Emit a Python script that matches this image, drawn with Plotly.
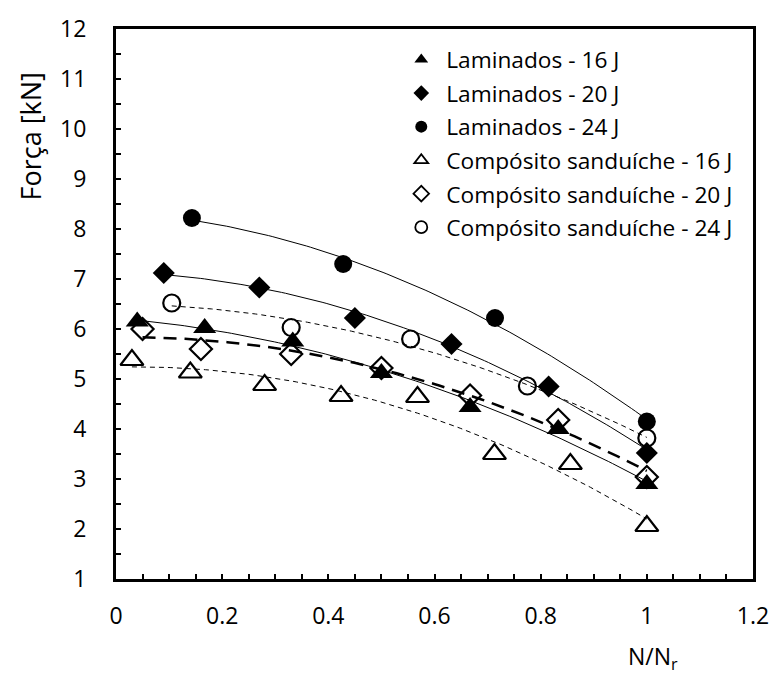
import numpy as np
import plotly.graph_objects as go

# ---- data ----
lam16_x = [0.04, 0.167, 0.333, 0.5, 0.667, 0.833, 1.0]
lam16_y = [6.15, 6.02, 5.75, 5.12, 4.44, 4.0, 2.9]

lam20_x = [0.09, 0.27, 0.45, 0.632, 0.815, 1.0]
lam20_y = [7.12, 6.83, 6.22, 5.7, 4.85, 3.52]

lam24_x = [0.143, 0.428, 0.714, 1.0]
lam24_y = [8.22, 7.3, 6.22, 4.15]

comp16_x = [0.03, 0.14, 0.28, 0.424, 0.568, 0.713, 0.856, 1.0]
comp16_y = [5.38, 5.13, 4.88, 4.66, 4.64, 3.5, 3.3, 2.06]

comp20_x = [0.05, 0.16, 0.33, 0.5, 0.667, 0.833, 1.0]
comp20_y = [6.0, 5.6, 5.5, 5.22, 4.67, 4.18, 3.04]

comp24_x = [0.105, 0.33, 0.555, 0.775, 1.0]
comp24_y = [6.52, 6.03, 5.8, 4.86, 3.82]

names = ["Laminados - 16 J", "Laminados - 20 J", "Laminados - 24 J",
         "Compósito sanduíche - 16 J", "Compósito sanduíche - 20 J",
         "Compósito sanduíche - 24 J"]

x_ticks = [0, 0.2, 0.4, 0.6, 0.8, 1, 1.2]
x_ticklabels = ["0", "0.2", "0.4", "0.6", "0.8", "1", "1.2"]
y_ticks = list(range(1, 13))

series = [
    (lam16_x, lam16_y, "triangle-up", True, 20, dict(width=1, dash="solid")),
    (lam20_x, lam20_y, "diamond", True, 17, dict(width=1, dash="solid")),
    (lam24_x, lam24_y, "circle", True, 18, dict(width=1, dash="solid")),
    (comp16_x, comp16_y, "triangle-up-open", False, 20, dict(width=1, dash="5px,4px")),
    (comp20_x, comp20_y, "diamond-open", False, 17, dict(width=2.5, dash="13px,8px")),
    (comp24_x, comp24_y, "circle-open", False, 17, dict(width=1, dash="5px,4px")),
]

FONT = "Open Sans"
fig = go.Figure()

# trend lines (2nd-order polynomial fits of each series)
for (xs, ys, sym, filled, sz, ln) in series:
    c = np.polyfit(xs, ys, 2)
    xx = np.linspace(min(xs), max(xs), 120)
    fig.add_trace(go.Scatter(x=xx, y=np.polyval(c, xx), mode="lines",
                             line=dict(color="black", **ln),
                             showlegend=False, hoverinfo="skip"))

# markers
for i, (xs, ys, sym, filled, sz, ln) in enumerate(series):
    fig.add_trace(go.Scatter(
        x=xs, y=ys, mode="markers", name=names[i], showlegend=False,
        marker=dict(symbol=sym, size=sz, color="black",
                    line=dict(color="black", width=2.2 if not filled else 0))))

# legend entries with smaller markers
for i, (xs, ys, sym, filled, sz, ln) in enumerate(series):
    fig.add_trace(go.Scatter(
        x=[None], y=[None], mode="markers", name=names[i], legendgroup=str(i),
        marker=dict(symbol=sym, size=12, color="black",
                    line=dict(color="black", width=1.8 if not filled else 0))))

fig.update_layout(
    width=781, height=675,
    margin=dict(l=116, r=23, t=23, b=96),
    paper_bgcolor="white", plot_bgcolor="white",
    font=dict(family=FONT, size=22, color="black"),
    showlegend=True,
    legend=dict(x=0.44, y=0.983, xanchor="left", yanchor="top",
                bgcolor="rgba(0,0,0,0)", tracegroupgap=1, itemwidth=40,
                font=dict(family=FONT, size=22.7), itemsizing="trace"),
    xaxis=dict(range=[0, 1.2], tickvals=x_ticks, ticktext=x_ticklabels,
               ticks="inside", ticklen=5, tickwidth=2, tickcolor="black",
               minor=dict(dtick=0.05, ticks="inside", ticklen=5, tickwidth=2, tickcolor="black"),
               showline=True, linecolor="black", linewidth=3, mirror=True,
               showgrid=False, zeroline=False, ticklabelstandoff=14,
               tickfont=dict(family=FONT, size=23)),
    yaxis=dict(range=[1, 12], tickvals=y_ticks,
               ticks="inside", ticklen=5, tickwidth=2, tickcolor="black",
               minor=dict(dtick=0.5, ticks="inside", ticklen=5, tickwidth=2, tickcolor="black"),
               showline=True, linecolor="black", linewidth=3, mirror=True,
               showgrid=False, zeroline=False, ticklabelstandoff=22,
               tickfont=dict(family=FONT, size=23)),
    annotations=[
        dict(text="Força [kN]", xref="paper", yref="paper",
             x=-(116 - 30) / 642, y=(579 - 132) / 556, textangle=-90,
             showarrow=False, font=dict(family=FONT, size=27),
             xanchor="center", yanchor="middle"),
        dict(text="N/N<sub>r</sub>", xref="paper", yref="paper",
             x=(657 - 116) / 642, y=-(658 - 579) / 556, showarrow=False,
             font=dict(family=FONT, size=23), xanchor="center", yanchor="middle"),
    ],
)

fig.write_html("out.html")
